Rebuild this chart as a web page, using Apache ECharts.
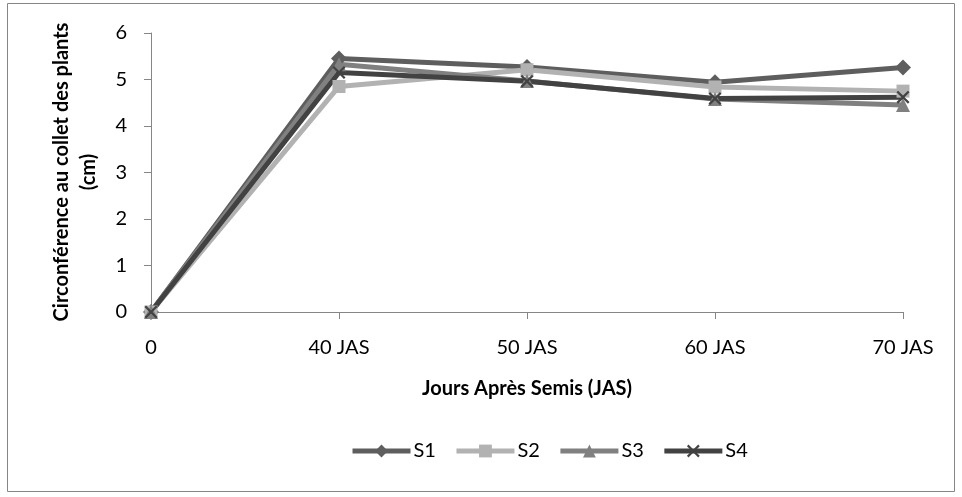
<!DOCTYPE html>
<html>
<head>
<meta charset="utf-8">
<script src="https://cdn.jsdelivr.net/npm/echarts@6/dist/echarts.min.js"></script>
<style>
  html, body { margin: 0; padding: 0; background: #ffffff; }
  #chart { width: 962px; height: 497px; }
</style>
</head>
<body>
<div id="chart"></div>
<script>
// Circumference at the collar, per treatment, by days after sowing
const categories = ['0', '40 JAS', '50 JAS', '60 JAS', '70 JAS'];
const s1 = [0, 5.45, 5.27, 4.94, 5.26];
const s2 = [0, 4.85, 5.21, 4.84, 4.75];
const s3 = [0, 5.33, 4.97, 4.58, 4.45];
const s4 = [0, 5.15, 4.96, 4.59, 4.62];
const yTicks = [0, 1, 2, 3, 4, 5, 6];

const FONT = 'Lato, "Open Sans", "Liberation Sans", sans-serif';
const crossPath = 'path://M0,1.2 L1.2,0 L5,3.8 L8.8,0 L10,1.2 L6.2,5 L10,8.8 L8.8,10 L5,6.2 L1.2,10 L0,8.8 L3.8,5 Z';

function line(name, data, color, symbol, size) {
  return {
    name, type: 'line', data,
    symbol, symbolSize: size,
    showAllSymbol: true,
    lineStyle: { color, width: 5 },
    itemStyle: { color, borderWidth: 0 },
    emphasis: { disabled: true },
    animation: false
  };
}

const chart = echarts.init(document.getElementById('chart'));
chart.setOption({
  backgroundColor: '#ffffff',
  textStyle: { fontFamily: FONT },
  graphic: [{
    type: 'rect',
    shape: { x: 7.5, y: 3.5, width: 947, height: 488 },
    style: { fill: 'none', stroke: '#868686', lineWidth: 1 },
    silent: true
  }, {
    type: 'text',
    x: 527, y: 389,
    style: {
      text: 'Jours Après Semis (JAS)', fill: '#000', align: 'center', verticalAlign: 'middle',
      font: 'bold 20px ' + FONT
    }
  }, {
    type: 'text',
    x: 75, y: 172, rotation: Math.PI / 2,
    style: {
      text: 'Circonférence au collet des plants\n(cm)', fill: '#000',
      align: 'center', verticalAlign: 'middle', lineHeight: 27,
      font: 'bold 20px ' + FONT
    }
  }],
  legend: {
    top: 436, left: 345,
    itemWidth: 58, itemHeight: 16, itemGap: 18,
    lineStyle: { width: 5 },
    textStyle: { fontSize: 20, color: '#000', fontFamily: FONT, padding: [0, 0, 0, -2] },
    data: ['S1', 'S2', 'S3', 'S4']
  },
  grid: { left: 151, right: 59, top: 33, bottom: 185, containLabel: false },
  xAxis: {
    type: 'category', data: categories, boundaryGap: false,
    axisLine: { lineStyle: { color: '#868686', width: 1 } },
    axisTick: { show: true, alignWithLabel: true, length: 7, lineStyle: { color: '#868686' } },
    axisLabel: { color: '#000', fontSize: 20, margin: 26, fontFamily: FONT }
  },
  yAxis: {
    type: 'value', min: yTicks[0], max: yTicks[yTicks.length - 1], interval: 1,
    axisLine: { show: true, lineStyle: { color: '#868686', width: 1 } },
    axisTick: { show: true, length: 7, lineStyle: { color: '#868686' } },
    splitLine: { show: false },
    axisLabel: { color: '#000', fontSize: 20, margin: 24, fontFamily: FONT }
  },
  series: [
    line('S1', s1, '#5e5e5e', 'diamond', 16),
    line('S2', s2, '#b2b2b2', 'rect', 13),
    line('S3', s3, '#808080', 'triangle', 14),
    line('S4', s4, '#424242', crossPath, 13)
  ]
});
</script>
</body>
</html>
